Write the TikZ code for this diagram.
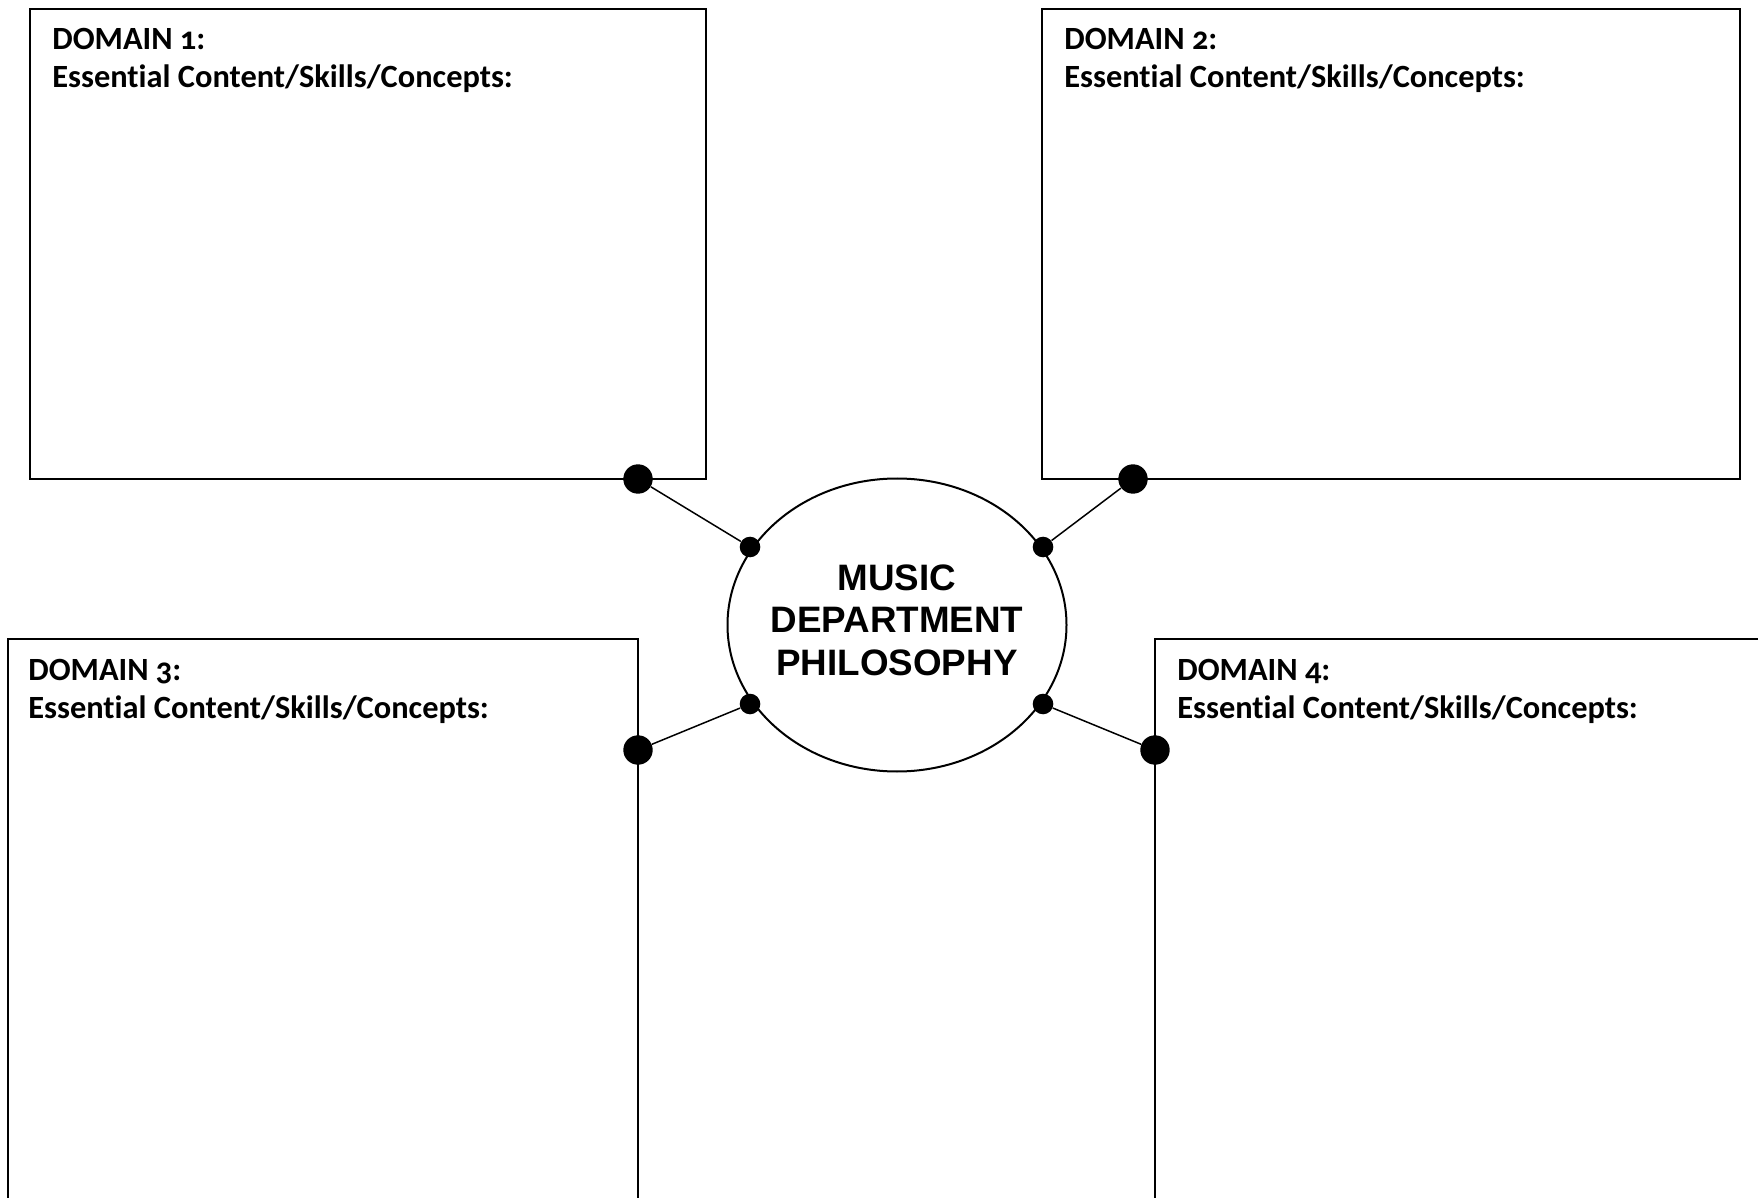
\documentclass[tikz,border=0pt]{standalone}
\usepackage{fontspec}
\usetikzlibrary{shapes.geometric}
\newfontfamily\boxfont{Carlito}[Numbers=OldStyle,Ligatures=NoCommon]
\newfontfamily\ellfont{Liberation Sans}
\begin{document}
\begin{tikzpicture}[x=0.5pt,y=-0.5pt,
  boxline/.style={draw=black,line width=0.65pt},
  boxtext/.style={anchor=base west,inner sep=0pt,font=\boxfont\bfseries\fontsize{16.2pt}{19pt}\selectfont},
  bigdot/.style={circle,fill=black,inner sep=0pt,minimum size=14.7pt},
  smalldot/.style={circle,fill=black,inner sep=0pt,minimum size=10.3pt},
  link/.style={draw=black,line width=0.75pt},
  phil/.style={ellipse,draw=black,line width=1pt,inner sep=0pt,minimum width=169.5pt,minimum height=146.5pt}]
\useasboundingbox (0,0) rectangle (1758,1198);
\begin{scope}
\clip (0,0) rectangle (1758,1198);
% boxes
\draw[boxline] (30,9) rectangle (706,479);
\draw[boxline] (1042,9) rectangle (1740,479);
\draw[boxline] (8,639) rectangle (638,1260);
\draw[boxline] (1155,639) rectangle (1800,1260);
\end{scope}
% box texts
\node[boxtext] (t1a) at (52,50) {DOMAIN 1:};
\node[boxtext] (t1b) at (52,88) {Essential Content/Skills/Concepts:};
\node[boxtext] (t2a) at (1064,50) {DOMAIN 2:};
\node[boxtext] (t2b) at (1064,88) {Essential Content/Skills/Concepts:};
\node[boxtext] (t3a) at (28,680) {DOMAIN 3:};
\node[boxtext] (t3b) at (28,718) {Essential Content/Skills/Concepts:};
\node[boxtext] (t4a) at (1177,680) {DOMAIN 4:};
\node[boxtext] (t4b) at (1177,718) {Essential Content/Skills/Concepts:};
% ellipse
\node[phil] (ell) at (897,625) {};
\node[align=center,inner sep=0pt,font=\ellfont\bfseries\fontsize{18.4pt}{21.3pt}\selectfont] (philtext) at (897,620) {MUSIC\\DEPARTMENT\\PHILOSOPHY};
% dots
\node[bigdot] (b1) at (638,479) {};
\node[bigdot] (b2) at (1133,479) {};
\node[bigdot] (b3) at (638,750) {};
\node[bigdot] (b4) at (1155,750) {};
\node[smalldot] (s1) at (750,547) {};
\node[smalldot] (s2) at (1043,547) {};
\node[smalldot] (s3) at (750,704) {};
\node[smalldot] (s4) at (1043,704) {};
\draw[link] (b1) -- (s1);
\draw[link] (b2) -- (s2);
\draw[link] (b3) -- (s3);
\draw[link] (b4) -- (s4);
\end{tikzpicture}
\end{document}
